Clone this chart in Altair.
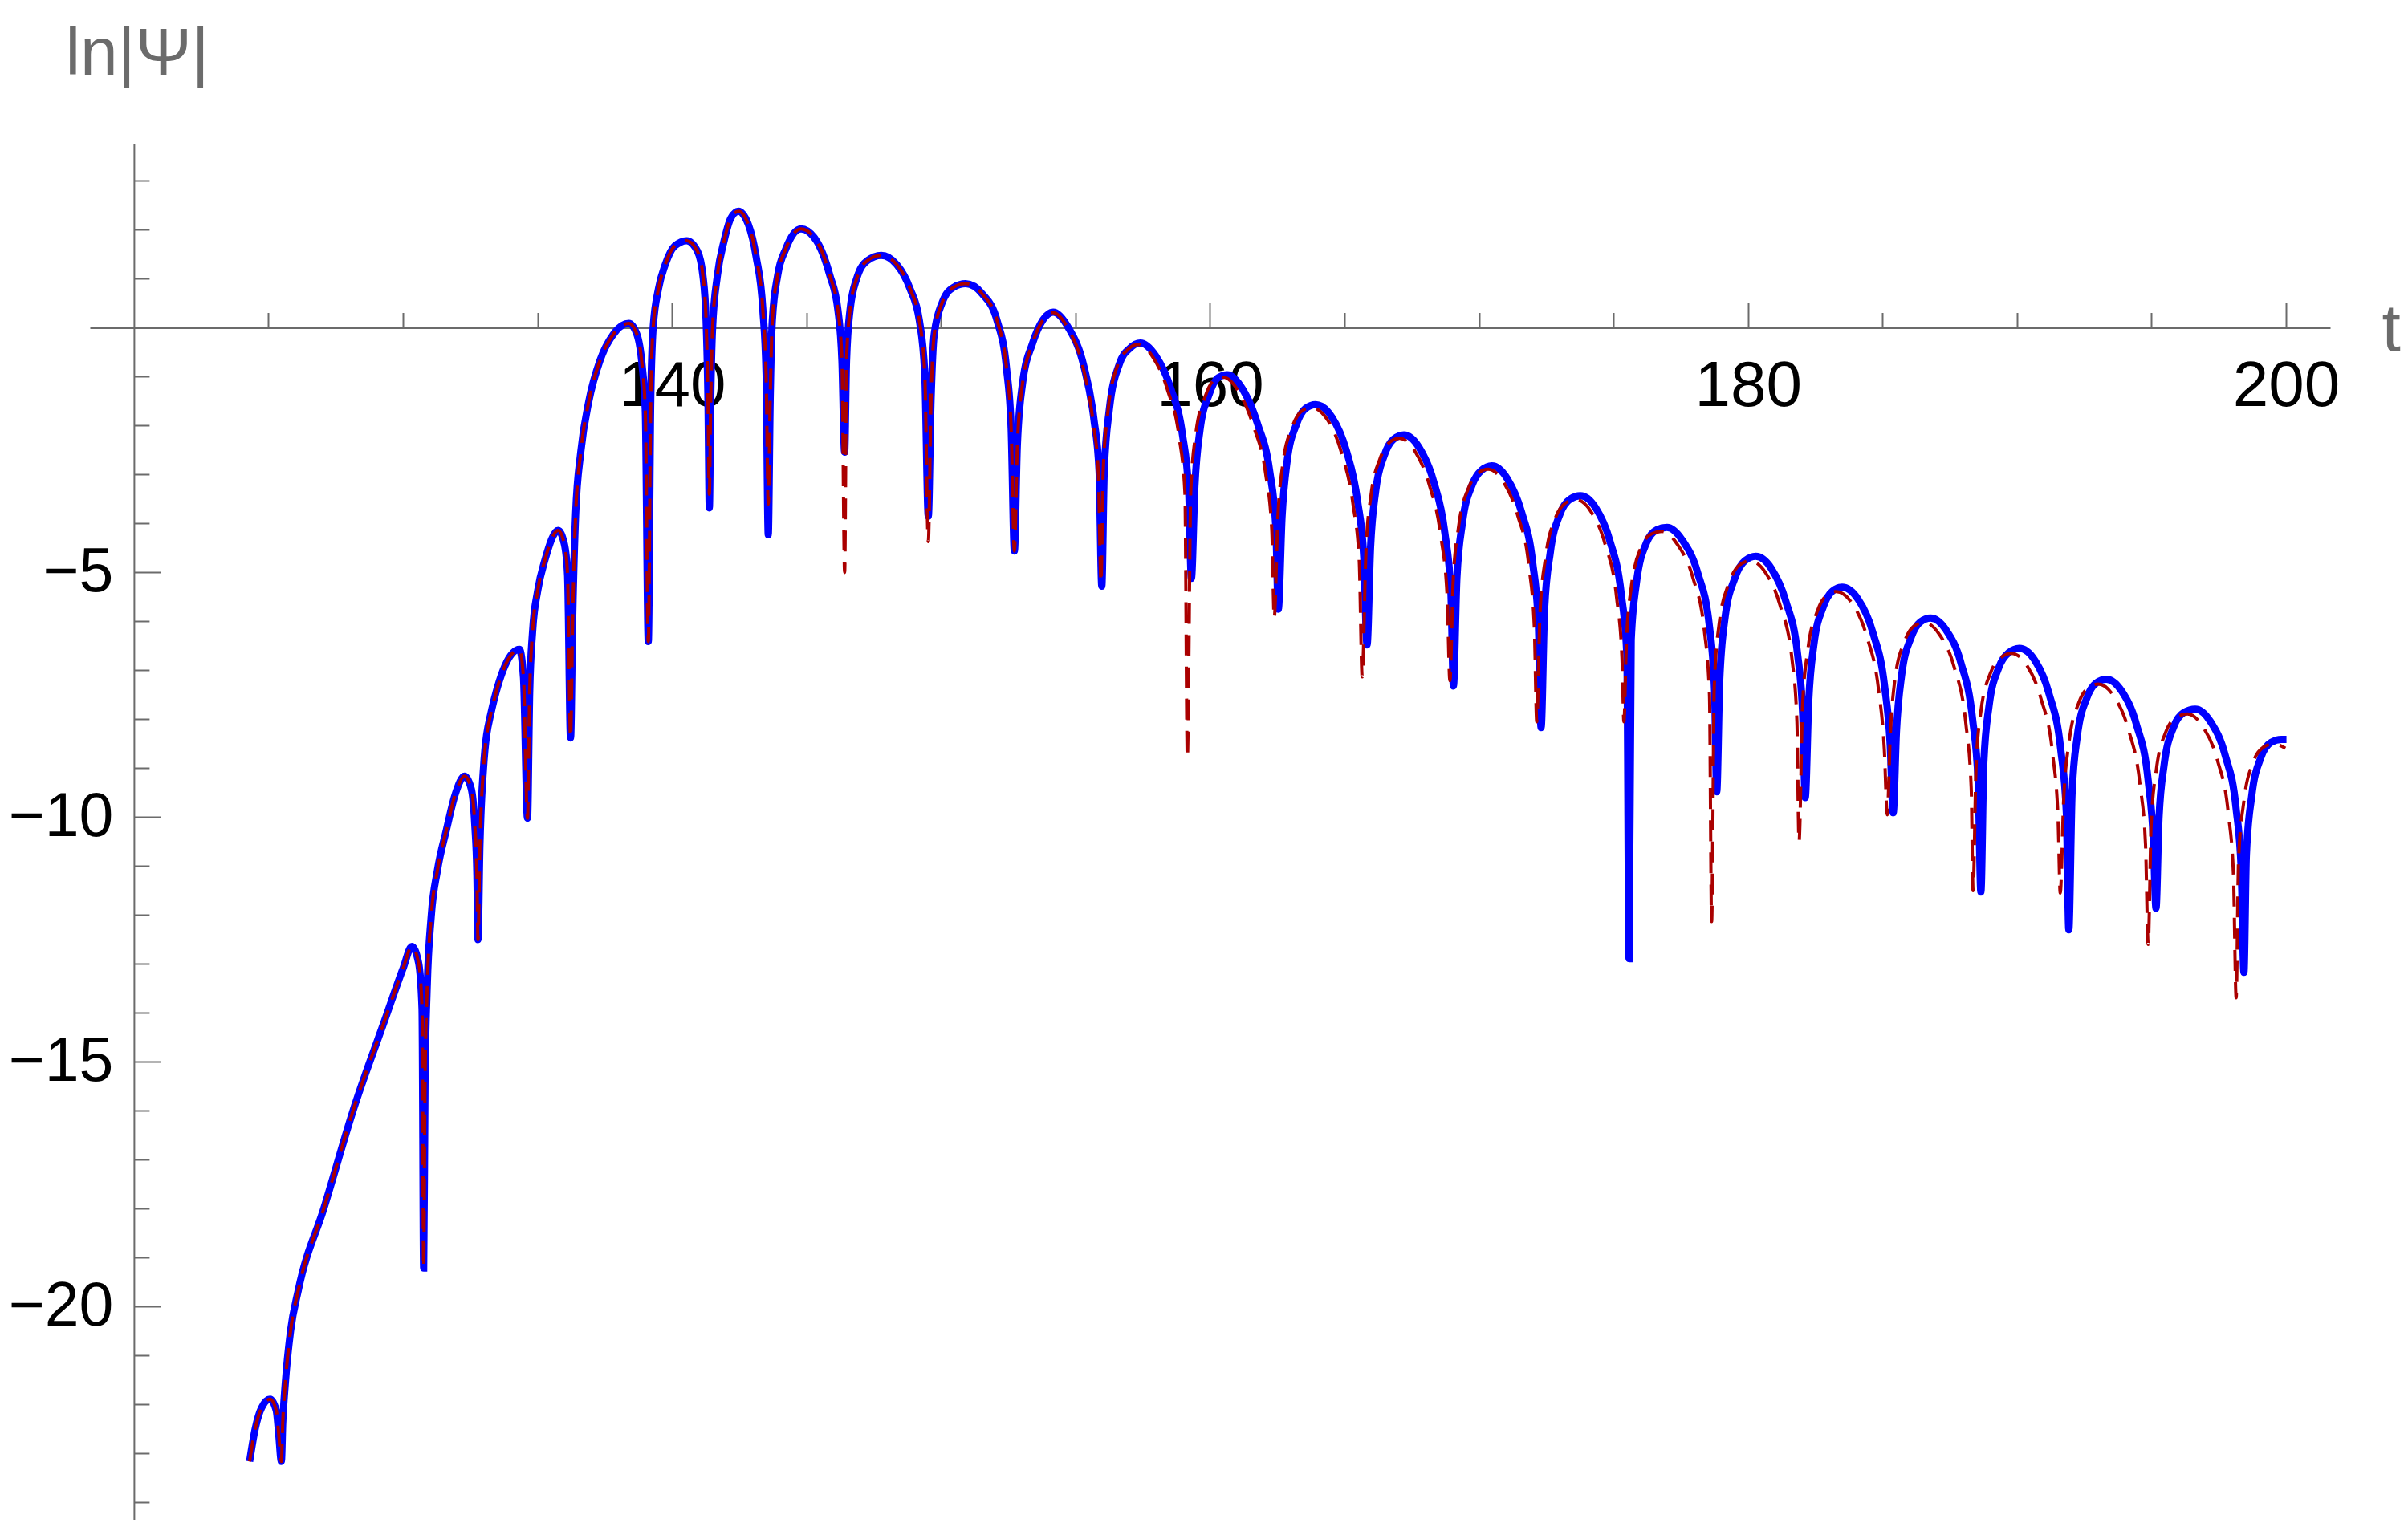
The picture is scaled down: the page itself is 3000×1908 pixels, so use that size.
import altair as alt
import pandas as pd

# ---------------- data ----------------
blue_t = [
    124.30, 124.49, 124.74, 125.06, 125.29, 125.38, 125.48,
    125.53, 125.63, 125.82, 126.11, 127.06, 128.20, 129.34, 130.01, 130.33, 130.58, 130.71, 130.77,
    130.82, 130.90, 131.05, 131.28, 131.62, 131.95, 132.29, 132.54, 132.67, 132.75, 132.79,
    132.86, 132.99, 133.26, 134.33, 134.48, 134.63,
    134.71, 134.82, 135.01, 135.28, 135.77, 136.00, 136.12, 136.23,
    136.31, 136.42, 136.61, 136.91, 137.33, 137.81, 138.40, 138.70, 138.89, 139.01, 139.12,
    139.21, 139.30, 139.50, 139.75, 140.10, 140.55, 140.95, 141.15, 141.27, 141.34, 141.39,
    141.44, 141.51, 141.69, 141.94, 142.19, 142.47, 142.84, 143.13, 143.38, 143.50, 143.58,
    143.65, 143.73, 143.93, 144.23, 144.80, 145.37, 145.87, 146.17, 146.32, 146.42,
    146.49, 146.62, 146.87, 147.26, 147.78, 148.36, 148.85, 149.20, 149.40, 149.53,
    149.63, 149.75, 150.05, 150.45, 150.92, 151.54, 152.09, 152.44, 152.61, 152.73,
    152.84, 153.03, 153.41, 153.79, 154.17, 154.74, 155.31, 155.69, 155.88, 155.98,
    156.07, 156.26, 156.64, 157.02, 157.41, 157.98, 158.55, 158.98, 159.21, 159.31,
    159.44, 159.63, 159.97, 160.30, 160.64, 161.21, 161.78, 162.22, 162.45, 162.54,
    162.68, 162.87, 163.21, 163.55, 163.93, 164.54, 165.07, 165.49, 165.72, 165.84,
    165.97, 166.16, 166.48, 166.82, 167.21, 167.78, 168.31, 168.73, 168.96, 169.05,
    169.18, 169.39, 169.74, 170.10, 170.48, 171.05, 171.58, 172.00, 172.21, 172.31,
    172.44, 172.65, 173.01, 173.39, 173.77, 174.34, 174.86, 175.29, 175.50, 175.58,
    175.66, 175.85, 176.23, 176.61, 176.99, 177.56, 178.14, 178.57, 178.76, 178.84,
    178.95, 179.14, 179.51, 179.89, 180.29, 180.86, 181.41, 181.85, 182.04, 182.13,
    182.26, 182.45, 182.80, 183.14, 183.50, 184.09, 184.64, 185.08, 185.29, 185.40,
    185.52, 185.71, 186.07, 186.41, 186.79, 187.36, 187.92, 188.35, 188.56, 188.66,
    188.77, 188.96, 189.32, 189.69, 190.09, 190.66, 191.19, 191.63, 191.84, 191.93,
    192.05, 192.24, 192.60, 192.94, 193.32, 193.89, 194.44, 194.88, 195.07, 195.17,
    195.28, 195.47, 195.83, 196.21, 196.63, 197.20, 197.74, 198.15, 198.34, 198.44,
    198.53, 198.73, 199.07, 199.45, 199.83, 200.02,
]
blue_y = [
    -23.16, -22.54, -22.07, -21.89, -22.12, -22.59, -23.16,
    -22.38, -21.54, -20.50, -19.66, -17.99, -15.90, -14.12, -13.08, -12.64, -12.97, -13.91, -19.21,
    -15.38, -13.49, -12.03, -11.09, -10.25, -9.52, -9.16, -9.42, -10.15, -11.19, -12.50,
    -10.59, -9.03, -7.90, -6.57, -7.14, -10.02,
    -7.46, -6.20, -5.37, -4.74, -4.14, -4.42, -5.05, -8.38,
    -5.89, -3.80, -2.54, -1.50, -0.66, -0.14, 0.09, -0.14, -0.77, -1.71, -6.41,
    -1.50, 0.00, 0.80, 1.29, 1.67, 1.78, 1.56, 1.07, 0.14, -1.50, -3.68,
    -1.50, 0.00, 1.07, 1.78, 2.24, 2.38, 2.11, 1.45, 0.36, -0.95, -4.23,
    -1.50, 0.14, 1.07, 1.61, 2.02, 1.78, 1.07, 0.36, -0.68, -2.54,
    -0.68, 0.36, 1.01, 1.37, 1.48, 1.29, 0.80, 0.14, -0.95, -3.85,
    -1.50, -0.13, 0.52, 0.82, 0.90, 0.69, 0.14, -0.84, -2.05, -4.56,
    -2.40, -1.15, -0.31, 0.16, 0.32, 0.00, -0.78, -1.88, -2.93, -5.28,
    -2.93, -1.67, -0.73, -0.42, -0.31, -0.57, -1.25, -2.19, -3.34, -5.12,
    -3.24, -2.09, -1.36, -1.02, -0.96, -1.25, -1.98, -2.93, -4.08, -5.75,
    -3.87, -2.72, -1.98, -1.65, -1.57, -1.83, -2.51, -3.55, -4.70, -6.48,
    -4.49, -3.34, -2.61, -2.28, -2.19, -2.45, -3.13, -4.18, -5.43, -7.32,
    -5.12, -3.97, -3.22, -2.91, -2.82, -3.08, -3.76, -4.81, -6.06, -8.17,
    -5.75, -4.60, -3.81, -3.50, -3.43, -3.68, -4.34, -5.44, -6.69, -12.89,
    -6.38, -5.23, -4.39, -4.13, -4.08, -4.34, -5.02, -6.11, -7.42, -9.48,
    -7.21, -5.96, -5.12, -4.76, -4.67, -4.91, -5.59, -6.69, -7.94, -9.60,
    -7.63, -6.48, -5.70, -5.38, -5.30, -5.54, -6.22, -7.32, -8.52, -9.91,
    -8.26, -7.11, -6.32, -6.01, -5.93, -6.17, -6.85, -7.99, -9.30, -11.53,
    -8.88, -7.74, -6.95, -6.64, -6.55, -6.79, -7.47, -8.62, -9.93, -12.30,
    -9.51, -8.36, -7.56, -7.26, -7.18, -7.42, -8.10, -9.25, -10.45, -11.86,
    -10.04, -8.94, -8.15, -7.86, -7.79, -8.05, -8.73, -9.83, -11.08, -13.17,
    -10.77, -9.56, -8.78, -8.47, -8.41, -8.41,
]

red_t = [
    124.30, 124.49, 124.74, 125.06, 125.29, 125.38, 125.48,
    125.53, 125.63, 125.82, 126.11, 127.06, 128.20, 129.34, 130.01, 130.33, 130.58, 130.71, 130.77,
    130.82, 130.90, 131.05, 131.28, 131.62, 131.95, 132.29, 132.54, 132.67, 132.75, 132.79,
    132.86, 132.99, 133.26, 134.33, 134.48, 134.63,
    134.71, 134.82, 135.01, 135.28, 135.77, 136.00, 136.12, 136.23,
    136.31, 136.42, 136.61, 136.91, 137.33, 137.81, 138.40, 138.70, 138.89, 139.01, 139.12,
    139.21, 139.30, 139.50, 139.75, 140.10, 140.55, 140.95, 141.15, 141.27, 141.34, 141.39,
    141.44, 141.51, 141.69, 141.94, 142.19, 142.47, 142.84, 143.13, 143.38, 143.50, 143.58,
    143.65, 143.73, 143.93, 144.23, 144.80, 145.37, 145.87, 146.17, 146.32, 146.42,
    146.49, 146.62, 146.87, 147.26, 147.78, 148.36, 148.85, 149.20, 149.40, 149.53,
    149.63, 149.75, 150.05, 150.45, 150.92, 151.54, 152.09, 152.44, 152.61, 152.73,
    152.84, 153.03, 153.41, 153.78, 154.15, 154.72, 155.28, 155.65, 155.85, 155.95,
    156.03, 156.21, 156.57, 156.94, 157.32, 157.88, 158.43, 158.85, 159.07, 159.16,
    159.29, 159.48, 159.82, 160.15, 160.49, 161.06, 161.63, 162.07, 162.30, 162.39,
    162.52, 162.71, 163.05, 163.39, 163.77, 164.38, 164.90, 165.32, 165.55, 165.66,
    165.80, 165.99, 166.32, 166.66, 167.05, 167.62, 168.15, 168.58, 168.82, 168.92,
    169.04, 169.25, 169.60, 169.96, 170.34, 170.91, 171.44, 171.86, 172.06, 172.15,
    172.27, 172.48, 172.84, 173.22, 173.60, 174.17, 174.69, 175.12, 175.32, 175.39,
    175.48, 175.66, 176.04, 176.42, 176.80, 177.37, 177.95, 178.38, 178.57, 178.65,
    178.75, 178.93, 179.30, 179.68, 180.08, 180.65, 181.20, 181.64, 181.82, 181.90,
    182.03, 182.23, 182.58, 182.92, 183.28, 183.87, 184.42, 184.86, 185.07, 185.18,
    185.29, 185.46, 185.82, 186.16, 186.54, 187.11, 187.67, 188.10, 188.30, 188.37,
    188.48, 188.66, 189.02, 189.39, 189.79, 190.36, 190.89, 191.33, 191.53, 191.61,
    191.74, 191.94, 192.30, 192.64, 193.02, 193.59, 194.14, 194.58, 194.78, 194.88,
    194.99, 195.18, 195.54, 195.92, 196.34, 196.91, 197.45, 197.86, 198.05, 198.15,
    198.24, 198.44, 198.78, 199.16, 199.54, 199.98,
]
red_y = [
    -23.16, -22.54, -22.07, -21.89, -22.12, -22.59, -23.16,
    -22.38, -21.54, -20.50, -19.66, -17.99, -15.90, -14.12, -13.08, -12.64, -12.97, -13.91, -19.21,
    -15.38, -13.49, -12.03, -11.09, -10.25, -9.52, -9.16, -9.42, -10.15, -11.19, -12.50,
    -10.59, -9.03, -7.90, -6.57, -7.14, -10.02,
    -7.46, -6.20, -5.37, -4.74, -4.14, -4.42, -5.05, -8.38,
    -5.89, -3.80, -2.54, -1.50, -0.66, -0.14, 0.09, -0.14, -0.77, -1.71, -6.41,
    -1.50, 0.00, 0.80, 1.29, 1.67, 1.78, 1.56, 1.07, 0.14, -1.50, -3.40,
    -1.50, 0.00, 1.07, 1.78, 2.24, 2.38, 2.11, 1.45, 0.36, -0.95, -3.60,
    -1.50, 0.14, 1.07, 1.61, 2.02, 1.78, 1.07, 0.36, -0.68, -5.00,
    -0.68, 0.36, 1.01, 1.37, 1.48, 1.29, 0.80, 0.14, -0.95, -4.37,
    -1.50, -0.13, 0.52, 0.82, 0.90, 0.69, 0.14, -0.84, -2.05, -4.56,
    -2.40, -1.15, -0.31, 0.15, 0.31, -0.01, -0.80, -1.90, -2.95, -5.20,
    -2.95, -1.70, -0.76, -0.45, -0.34, -0.60, -1.28, -2.22, -3.37, -8.78,
    -3.30, -2.14, -1.41, -1.07, -1.01, -1.30, -2.03, -2.98, -4.13, -5.93,
    -3.93, -2.78, -2.04, -1.71, -1.63, -1.89, -2.57, -3.61, -4.76, -7.13,
    -4.56, -3.41, -2.68, -2.35, -2.26, -2.52, -3.20, -4.25, -5.50, -7.21,
    -5.19, -4.04, -3.29, -2.98, -2.89, -3.15, -3.83, -4.88, -6.13, -8.05,
    -5.83, -4.68, -3.89, -3.58, -3.51, -3.76, -4.42, -5.52, -6.77, -8.05,
    -6.46, -5.31, -4.47, -4.21, -4.16, -4.42, -5.10, -6.19, -7.50, -12.13,
    -7.30, -6.05, -5.21, -4.85, -4.76, -5.00, -5.68, -6.78, -8.03, -10.50,
    -7.72, -6.57, -5.79, -5.47, -5.39, -5.63, -6.31, -7.41, -8.61, -9.95,
    -8.35, -7.20, -6.41, -6.10, -6.02, -6.26, -6.94, -8.08, -9.39, -11.50,
    -8.98, -7.84, -7.05, -6.74, -6.65, -6.89, -7.57, -8.72, -10.03, -11.55,
    -9.61, -8.46, -7.66, -7.36, -7.28, -7.52, -8.20, -9.35, -10.55, -12.60,
    -10.14, -9.04, -8.25, -7.96, -7.89, -8.15, -8.83, -9.93, -11.18, -13.69,
    -10.87, -9.66, -8.88, -8.57, -8.50, -8.59,
]

x_major = [140, 160, 180, 200]
x_minor = [125, 130, 135, 145, 150, 155, 165, 170, 175, 185, 190, 195]
y_major = [-5, -10, -15, -20]
y_minor = [3, 2, 1, -1, -2, -3, -4, -6, -7, -8, -9, -11, -12, -13, -14,
           -16, -17, -18, -19, -21, -22, -23, -24]

assert len(blue_t) == len(blue_y)
assert len(red_t) == len(red_y)

# ---------------- layout ----------------
X_MIN, X_MAX = 118.362, 201.644
Y_MIN, Y_MAX = -24.353, 3.762
PLOT_W, PLOT_H = 2791, 1715
FONT = "Liberation Sans"
AX = "#6b6b6b"

y0_from_top = PLOT_H * (Y_MAX - 0) / (Y_MAX - Y_MIN)
y0_from_bottom = PLOT_H - y0_from_top
x120_from_left = PLOT_W * (120 - X_MIN) / (X_MAX - X_MIN)
x120_from_right = PLOT_W - x120_from_left

xscale = alt.Scale(domain=[X_MIN, X_MAX], nice=False, zero=False)
yscale = alt.Scale(domain=[Y_MIN, Y_MAX], nice=False, zero=False)

df_blue = pd.DataFrame({"t": blue_t, "y": blue_y})
df_red = pd.DataFrame({"t": red_t, "y": red_y})

# blue curve + labelled axes (domain lines crossing at (120, 0))
blue = alt.Chart(df_blue).mark_line(
    color="#0000FF", strokeWidth=9, interpolate="monotone"
).encode(
    x=alt.X("t:Q", scale=xscale, axis=alt.Axis(
        orient="bottom", offset=-y0_from_bottom, values=x_major, format="d",
        ticks=False, tickSize=0, labelPadding=34, labelFontSize=80, labelFont=FONT,
        labelColor="black", labelFlush=False, labelOverlap=False,
        domain=True, domainColor=AX, domainWidth=2, grid=False,
        title="t", titleX=2855, titleY=28, titleAlign="left", titleBaseline="alphabetic",
        titleAngle=0, titleFontSize=84, titleFont=FONT, titleColor=AX, titleFontWeight="normal",
    )),
    y=alt.Y("y:Q", scale=yscale, axis=alt.Axis(
        orient="left", offset=-x120_from_left, values=y_major,
        ticks=False, tickSize=0, labelPadding=26, labelFontSize=77, labelFont=FONT,
        labelColor="black", labelFlush=False, labelOverlap=False,
        domain=True, domainColor=AX, domainWidth=2, grid=False,
        title="ln|Ψ|", titleX=-86, titleY=-87, titleAlign="left", titleBaseline="alphabetic",
        titleAngle=0, titleFontSize=84, titleFont=FONT, titleColor=AX, titleFontWeight="normal",
    )),
)

# red dashed curve + minor tick axes (ticks point up / right like the reference)
red = alt.Chart(df_red).mark_line(
    color="#AA0000", strokeWidth=4, strokeDash=[26, 14], interpolate="monotone"
).encode(
    x=alt.X("t:Q", scale=xscale, axis=alt.Axis(
        orient="top", offset=-y0_from_top, values=x_minor, ticks=True, tickSize=19,
        tickWidth=2, tickColor=AX, labels=False, domain=False, grid=False, title=None,
    )),
    y=alt.Y("y:Q", scale=yscale, axis=alt.Axis(
        orient="right", offset=-x120_from_right, values=y_minor, ticks=True, tickSize=19,
        tickWidth=2, tickColor=AX, labels=False, domain=False, grid=False, title=None,
    )),
)

# invisible layer carrying the major ticks
major = alt.Chart(df_blue).mark_line(opacity=0).encode(
    x=alt.X("t:Q", scale=xscale, axis=alt.Axis(
        orient="top", offset=-y0_from_top, values=x_major, ticks=True, tickSize=32,
        tickWidth=2, tickColor=AX, labels=False, domain=False, grid=False, title=None,
    )),
    y=alt.Y("y:Q", scale=yscale, axis=alt.Axis(
        orient="right", offset=-x120_from_right, values=y_major, ticks=True, tickSize=33,
        tickWidth=2, tickColor=AX, labels=False, domain=False, grid=False, title=None,
    )),
)

chart = alt.layer(blue, red, major).resolve_axis(
    x="independent", y="independent"
).properties(
    width=PLOT_W, height=PLOT_H,
    padding={"left": 104, "top": 171, "right": 88, "bottom": 0},
    autosize=alt.AutoSizeParams(type="none"),
    background="white",
).configure_view(stroke=None).configure_axis(grid=False)

chart.save("out.html", embed_options={"renderer": "svg", "actions": False})
